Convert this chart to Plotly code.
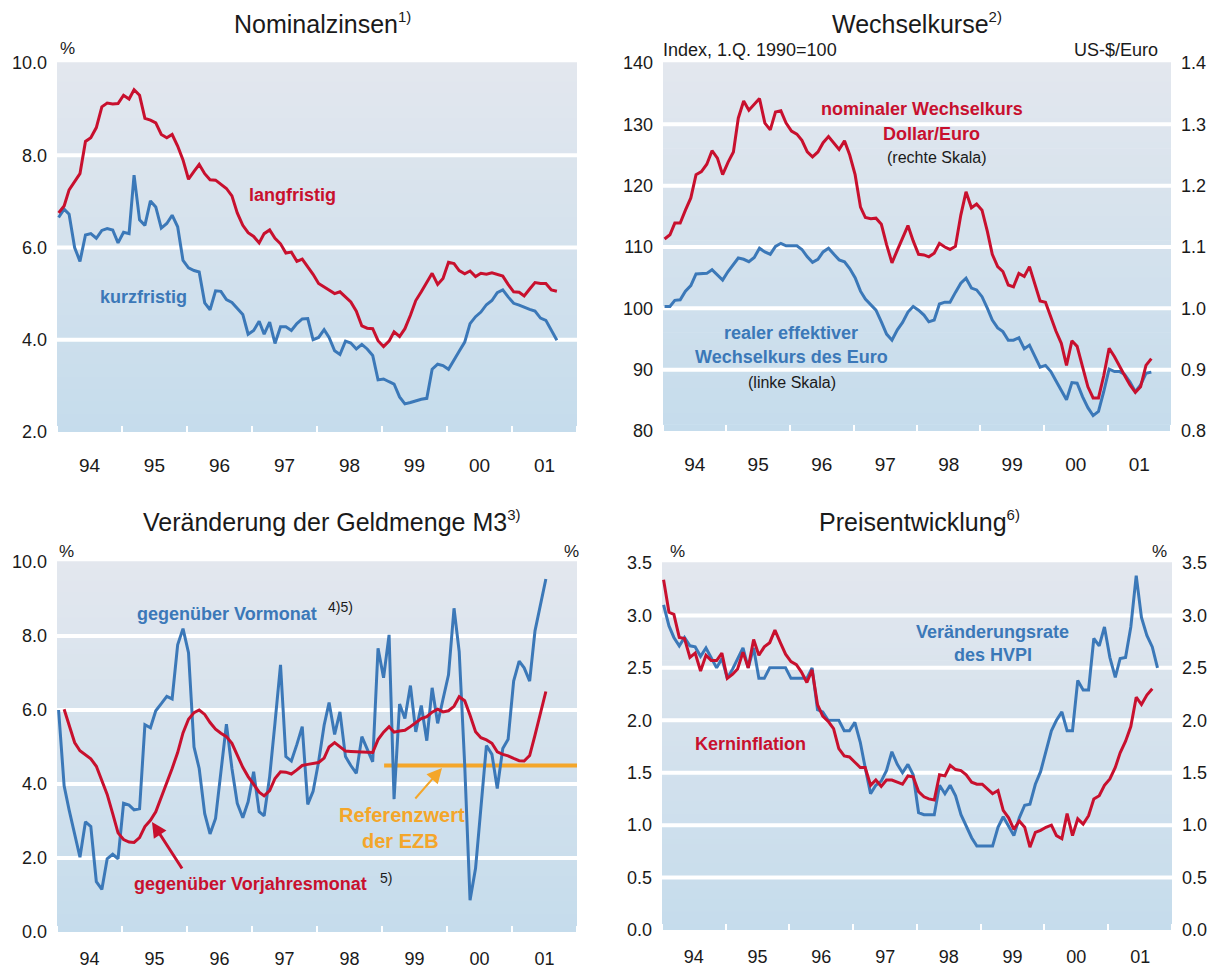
import plotly.graph_objects as go
import pandas as pd

# ---------------- data (monthly, from Jan 1994) ----------------
ZINS_LANG = [6.75, 6.9, 7.25, 7.42, 7.6, 8.3, 8.38, 8.6, 9.05, 9.13,
             9.11, 9.12, 9.3, 9.22, 9.42, 9.3, 8.8, 8.76, 8.7, 8.45,
             8.38, 8.45, 8.2, 7.9, 7.48, 7.65, 7.8, 7.6, 7.47, 7.46,
             7.38, 7.28, 7.12, 6.75, 6.48, 6.32, 6.24, 6.1, 6.3, 6.38,
             6.2, 6.08, 5.88, 5.9, 5.7, 5.75, 5.58, 5.42, 5.22, 5.15,
             5.07, 5.0, 5.04, 4.92, 4.82, 4.62, 4.3, 4.25, 4.24, 3.98,
             3.85, 3.97, 4.17, 4.07, 4.24, 4.53, 4.85, 5.04, 5.25, 5.44,
             5.2, 5.33, 5.68, 5.65, 5.5, 5.43, 5.49, 5.37, 5.44, 5.42,
             5.45, 5.42, 5.38, 5.2, 5.04, 5.03, 4.95, 5.1, 5.24, 5.22,
             5.22, 5.08, 5.05]
ZINS_KURZ = [6.65, 6.83, 6.72, 6.0, 5.7, 6.27, 6.3, 6.2, 6.37, 6.41,
             6.38, 6.1, 6.33, 6.3, 7.57, 6.6, 6.48, 7.01, 6.88, 6.42,
             6.52, 6.7, 6.45, 5.72, 5.56, 5.5, 5.47, 4.8, 4.65, 5.06,
             5.05, 4.87, 4.81, 4.68, 4.55, 4.12, 4.2, 4.4, 4.12, 4.38,
             3.92, 4.28, 4.28, 4.2, 4.35, 4.45, 4.46, 4.0, 4.05, 4.22,
             4.05, 3.76, 3.68, 3.97, 3.93, 3.8, 3.9, 3.8, 3.66, 3.13,
             3.15, 3.09, 3.04, 2.76, 2.61, 2.64, 2.68, 2.71, 2.73, 3.36,
             3.47, 3.44, 3.36, 3.55, 3.75, 3.95, 4.35, 4.5, 4.6, 4.76,
             4.85, 5.02, 5.08, 4.93, 4.79, 4.75, 4.7, 4.66, 4.62, 4.47,
             4.42, 4.2, 3.99]
USD_EUR = [1.113, 1.12, 1.139, 1.139, 1.16, 1.18, 1.218, 1.223, 1.235, 1.257,
           1.245, 1.218, 1.238, 1.255, 1.31, 1.338, 1.323, 1.332, 1.342, 1.302,
           1.291, 1.32, 1.322, 1.302, 1.289, 1.284, 1.274, 1.255, 1.247, 1.255,
           1.27, 1.28, 1.27, 1.259, 1.273, 1.25, 1.218, 1.165, 1.148, 1.146,
           1.147, 1.137, 1.104, 1.074, 1.095, 1.116, 1.135, 1.11, 1.088, 1.087,
           1.084, 1.09, 1.106, 1.1, 1.096, 1.101, 1.152, 1.19, 1.164, 1.17,
           1.16, 1.125, 1.088, 1.068, 1.06, 1.038, 1.035, 1.057, 1.052, 1.068,
           1.038, 1.012, 1.01, 0.985, 0.963, 0.943, 0.907, 0.947, 0.938, 0.905,
           0.872, 0.854, 0.854, 0.89, 0.935, 0.921, 0.905, 0.89, 0.875, 0.863,
           0.872, 0.907, 0.918]
REAL_EFF = [100.3, 100.3, 101.3, 101.4, 102.8, 103.7, 105.6, 105.7, 105.7, 106.3,
            105.5, 104.6, 106.0, 107.2, 108.2, 108.0, 107.6, 108.3, 109.8, 109.2,
            108.8, 110.1, 110.6, 110.2, 110.2, 110.2, 109.6, 108.4, 107.5, 108.0,
            109.2, 109.8, 108.8, 107.9, 107.6, 106.5, 105.0, 102.8, 101.5, 100.5,
            99.7, 97.8, 95.8, 94.8, 96.5, 97.7, 99.4, 100.3, 99.7, 98.9,
            97.8, 98.1, 100.7, 101.0, 101.0, 102.6, 104.1, 104.9, 103.3, 103.0,
            101.9, 100.0, 98.1, 96.8, 96.2, 94.8, 94.8, 95.2, 93.4, 94.0,
            92.1, 90.4, 90.7, 89.7, 88.2, 86.6, 85.1, 87.9, 87.8, 85.6,
            83.8, 82.5, 83.2, 86.4, 90.1, 89.7, 89.7, 89.2, 88.0, 86.4,
            87.5, 89.4, 89.6]
M3_VORMONAT = [6.0, 3.95, 3.3, 2.65, 2.02, 2.98, 2.85, 1.36, 1.15, 1.98,
               2.1, 1.98, 3.48, 3.43, 3.3, 3.33, 5.6, 5.52, 5.98, 6.17,
               6.37, 6.3, 7.76, 8.2, 7.55, 5.0, 4.42, 3.2, 2.65, 3.07,
               4.25, 5.62, 4.42, 3.48, 3.09, 3.52, 4.33, 3.25, 3.14, 4.2,
               5.65, 7.22, 4.74, 4.62, 5.07, 5.55, 3.45, 3.8, 4.6, 5.59,
               6.2, 5.34, 5.95, 4.74, 4.5, 4.29, 5.28, 4.92, 4.6, 7.67,
               6.87, 8.03, 3.59, 6.16, 5.77, 6.66, 5.41, 6.12, 5.17, 6.6,
               5.64, 6.29, 6.95, 8.75, 7.58, 4.51, 0.86, 1.72, 3.39, 5.04,
               4.8, 3.88, 4.96, 5.21, 6.78, 7.32, 7.14, 6.78, 8.14, 8.86,
               9.54]
M3_VORJAHR = [6.02, 5.6, 5.12, 4.9, 4.8, 4.68, 4.48, 4.1, 3.72, 3.2,
              2.68, 2.5, 2.43, 2.42, 2.55, 2.85, 3.02, 3.25, 3.63, 4.05,
              4.42, 4.85, 5.38, 5.75, 5.93, 6.0, 5.88, 5.66, 5.48, 5.37,
              5.28, 5.1, 4.8, 4.45, 4.2, 3.98, 3.78, 3.68, 3.82, 4.15,
              4.33, 4.32, 4.27, 4.38, 4.5, 4.53, 4.55, 4.58, 4.7, 5.0,
              5.12, 5.0, 4.89, 4.88, 4.87, 4.87, 4.86, 4.85, 5.2, 5.4,
              5.55, 5.4, 5.43, 5.45, 5.55, 5.66, 5.77, 5.82, 5.94, 6.02,
              5.95, 5.98, 6.1, 6.36, 6.25, 5.86, 5.41, 5.25, 5.19, 5.1,
              4.87, 4.8, 4.76, 4.69, 4.63, 4.62, 4.77, 5.32, 5.95, 6.5]
REFERENZWERT = [4.5, 4.5]
REF_DATES = ["1999-01-13", "2002-01-01"]
HVPI = [3.1, 2.9, 2.79, 2.71, 2.79, 2.71, 2.7, 2.61, 2.69, 2.59,
        2.5, 2.59, 2.4, 2.49, 2.59, 2.69, 2.5, 2.69, 2.4, 2.4,
        2.5, 2.5, 2.5, 2.5, 2.4, 2.4, 2.4, 2.4, 2.5, 2.1,
        2.08, 2.0, 2.0, 2.0, 1.9, 1.9, 1.98, 1.79, 1.55, 1.3,
        1.38, 1.42, 1.52, 1.7, 1.58, 1.5, 1.58, 1.48, 1.12, 1.1,
        1.1, 1.1, 1.38, 1.3, 1.38, 1.28, 1.1, 0.99, 0.88, 0.8,
        0.8, 0.8, 0.8, 0.98, 1.08, 0.99, 0.9, 1.07, 1.19, 1.2,
        1.39, 1.51, 1.71, 1.9, 2.0, 2.08, 1.9, 1.9, 2.38, 2.29,
        2.29, 2.78, 2.71, 2.89, 2.6, 2.41, 2.59, 2.6, 2.89, 3.38,
        2.98, 2.81, 2.7, 2.5]
KERN = [3.34, 3.03, 3.01, 2.79, 2.78, 2.6, 2.64, 2.47, 2.62, 2.57,
        2.57, 2.64, 2.4, 2.44, 2.49, 2.65, 2.5, 2.77, 2.62, 2.7,
        2.74, 2.86, 2.74, 2.63, 2.56, 2.53, 2.46, 2.36, 2.48, 2.15,
        2.04, 1.99, 1.92, 1.73, 1.66, 1.65, 1.6, 1.55, 1.55, 1.38,
        1.43, 1.37, 1.43, 1.43, 1.41, 1.39, 1.47, 1.46, 1.32, 1.27,
        1.25, 1.24, 1.48, 1.47, 1.57, 1.53, 1.52, 1.48, 1.41, 1.39,
        1.39, 1.34, 1.3, 1.33, 1.14, 1.07, 0.96, 1.04, 0.98, 0.79,
        0.93, 0.95, 0.98, 1.0, 0.9, 0.87, 1.11, 0.9, 1.06, 1.01,
        1.09, 1.25, 1.28, 1.38, 1.44, 1.55, 1.69, 1.8, 1.94, 2.22,
        2.15, 2.24, 2.3]

TICKS_ZINS = [2, 4, 6, 8, 10]
TICKS_INDEX = [80, 90, 100, 110, 120, 130, 140]
TICKS_USD = [0.8, 0.9, 1.0, 1.1, 1.2, 1.3, 1.4]
TICKS_M3 = [0, 2, 4, 6, 8, 10]
TICKS_PREIS = [0, 0.5, 1.0, 1.5, 2.0, 2.5, 3.0, 3.5]


def months(start, n):
    return pd.date_range(start, periods=n, freq="MS") + pd.Timedelta(days=9)


# ---------------- styling ----------------
W, H = 1210, 972
FONT = "Liberation Sans, Arial, sans-serif"
RED = "#c8102e"
BLUE = "#3b78b8"
ORANGE = "#f4a62a"
TXT = "#1a1a1a"
TOP = (227, 231, 238)
BOT = (197, 220, 236)

P = {
    1: dict(x0=57, x1=577, y0=63, y1=432),
    2: dict(x0=663, x1=1171, y0=63, y1=431),
    3: dict(x0=57, x1=577, y0=562, y1=932),
    4: dict(x0=662, x1=1172, y0=563, y1=930),
}


def xdom(k):
    return [P[k]["x0"] / W, P[k]["x1"] / W]


def ydom(k):
    return [1 - P[k]["y1"] / H, 1 - P[k]["y0"] / H]


fig = go.Figure()


def line(x, y, color, xa, ya, width=3):
    fig.add_trace(go.Scatter(x=x, y=y, mode="lines", line=dict(color=color, width=width),
                             xaxis=xa, yaxis=ya, showlegend=False, hoverinfo="skip"))


# Panel 1
line(months("1994-01-01", len(ZINS_KURZ)), ZINS_KURZ, BLUE, "x", "y")
line(months("1994-01-01", len(ZINS_LANG)), ZINS_LANG, RED, "x", "y")
# Panel 2
line(months("1994-01-01", len(REAL_EFF)), REAL_EFF, BLUE, "x2", "y2")
line(months("1994-01-01", len(USD_EUR)), USD_EUR, RED, "x2", "y5")
# Panel 3
line(REF_DATES, REFERENZWERT, ORANGE, "x3", "y3", width=4)
line(months("1994-01-01", len(M3_VORMONAT)), M3_VORMONAT, BLUE, "x3", "y3")
line(months("1994-02-01", len(M3_VORJAHR)), M3_VORJAHR, RED, "x3", "y3")
# Panel 4
line(months("1994-01-01", len(HVPI)), HVPI, BLUE, "x4", "y4")
line(months("1994-01-01", len(KERN)), KERN, RED, "x4", "y6")

# background gradient + white gridlines
shapes = []
N = 60
for k in (1, 2, 3, 4):
    suf = "" if k == 1 else str(k)
    for i in range(N):
        t = i / (N - 1)
        c = tuple(round(BOT[j] + (TOP[j] - BOT[j]) * t) for j in range(3))
        shapes.append(dict(type="rect", xref=f"x{suf} domain", yref=f"y{suf} domain",
                           x0=0, x1=1, y0=i / N, y1=(i + 1) / N + 0.002,
                           fillcolor="rgb(%d,%d,%d)" % c, line=dict(width=0), layer="below"))
grids = {1: TICKS_ZINS, 2: TICKS_INDEX, 3: TICKS_M3, 4: TICKS_PREIS}
for k, vals in grids.items():
    suf = "" if k == 1 else str(k)
    for v in vals[1:-1]:
        shapes.append(dict(type="line", xref=f"x{suf} domain", yref=f"y{suf}",
                           x0=0, x1=1, y0=v, y1=v, line=dict(color="white", width=4), layer="below"))


def xax(k):
    return dict(domain=xdom(k), type="date", range=["1994-01-01", "2002-01-01"],
                dtick="M12", tick0="1994-01-01", tickformat="%y", ticklabelmode="period",
                ticks="inside", ticklen=6, tickwidth=2, tickcolor="white",
                showgrid=False, zeroline=False, showline=False, automargin=False,
                tickfont=dict(family=FONT, size=19 if k <= 2 else 18, color=TXT),
                ticklabelstandoff=20 if k <= 2 else 14,
                anchor="y" if k == 1 else f"y{k}")


def yax(k, rng, vals, fmt, side="left", overlay=None):
    d = dict(range=rng, tickvals=vals, tickformat=fmt, showgrid=False, zeroline=False,
             showline=False, ticks="", side=side, automargin=False,
             tickfont=dict(family=FONT, size=18, color=TXT), ticklabelstandoff=9,
             anchor="x" if k == 1 else f"x{k}")
    if overlay:
        d["overlaying"] = overlay
    else:
        d["domain"] = ydom(k)
    return d


def txt(s, x, y, size=18, color=TXT, bold=False, xanchor="center"):
    return dict(text=f"<b>{s}</b>" if bold else s, x=x / W, y=1 - y / H,
                xref="paper", yref="paper", showarrow=False, xanchor=xanchor, yanchor="middle",
                font=dict(family=FONT, size=size, color=color))


def title(s, sup, x, y):
    return txt(f"{s}<sup><span style='font-size:15px'>{sup}</span></sup>", x, y, size=25)


def arrow(hx, hy, tx, ty, color, width, size):
    return dict(text="", x=hx / W, y=1 - hy / H, xref="paper", yref="paper",
                ax=tx - hx, ay=ty - hy, showarrow=True, arrowhead=2, arrowsize=size,
                arrowwidth=width, arrowcolor=color, standoff=0)


annotations = [
    title("Nominalzinsen", "1)", 322, 23),
    title("Wechselkurse", "2)", 917, 23),
    title("Veränderung der Geldmenge M3", "3)", 331, 521),
    title("Preisentwicklung", "6)", 919, 521),
    txt("%", 67, 48, size=17),
    txt("Index, 1.Q. 1990=100", 661, 50, size=18, xanchor="left"),
    txt("US-$/Euro", 1160, 50, size=18, xanchor="right"),
    txt("%", 66, 551, size=17),
    txt("%", 571, 551, size=17),
    txt("%", 677, 551, size=17),
    txt("%", 1159, 551, size=17),
    txt("langfristig", 247, 195, color=RED, bold=True, xanchor="left"),
    txt("kurzfristig", 98, 297, color=BLUE, bold=True, xanchor="left"),
    txt("nominaler Wechselkurs", 922, 109, color=RED, bold=True),
    txt("Dollar/Euro", 931, 134, color=RED, bold=True),
    txt("(rechte Skala)", 937, 158, size=16),
    txt("realer effektiver", 791, 333, color=BLUE, bold=True),
    txt("Wechselkurs des Euro", 791, 357, color=BLUE, bold=True),
    txt("(linke Skala)", 792, 382, size=16),
    txt("gegenüber Vormonat", 135, 614, color=BLUE, bold=True, xanchor="left"),
    txt("4)5)", 326, 607, size=14, xanchor="left"),
    txt("gegenüber Vorjahresmonat", 132, 884, color=RED, bold=True, xanchor="left"),
    txt("5)", 378, 878, size=14, xanchor="left"),
    txt("Referenzwert", 402, 815, size=20, color=ORANGE, bold=True),
    txt("der EZB", 400, 841, size=20, color=ORANGE, bold=True),
    txt("Veränderungsrate", 992, 632, color=BLUE, bold=True),
    txt("des HVPI", 993, 655, color=BLUE, bold=True),
    txt("Kerninflation", 750, 744, color=RED, bold=True),
    arrow(152, 822, 183, 870, RED, 3, 1.0),
    arrow(442, 768, 414, 800, ORANGE, 2, 1.5),
]

fig.update_layout(
    width=W, height=H, margin=dict(l=0, r=0, t=0, b=0, autoexpand=False),
    paper_bgcolor="white", plot_bgcolor="rgba(0,0,0,0)",
    font=dict(family=FONT, size=18, color=TXT),
    showlegend=False, shapes=shapes, annotations=annotations,
    xaxis=xax(1), xaxis2=xax(2), xaxis3=xax(3), xaxis4=xax(4),
    yaxis=yax(1, [2, 10], TICKS_ZINS, ".1f"),
    yaxis2=yax(2, [80, 140], TICKS_INDEX, "d"),
    yaxis3=yax(3, [0, 10], TICKS_M3, ".1f"),
    yaxis4=yax(4, [0, 3.5], TICKS_PREIS, ".1f"),
    yaxis5=yax(2, [0.8, 1.4], TICKS_USD, ".1f", side="right", overlay="y2"),
    yaxis6=yax(4, [0, 3.5], TICKS_PREIS, ".1f", side="right", overlay="y4"),
)

fig.write_html("out.html", config={"displayModeBar": False},
               post_script="document.body.style.margin='0px';")
